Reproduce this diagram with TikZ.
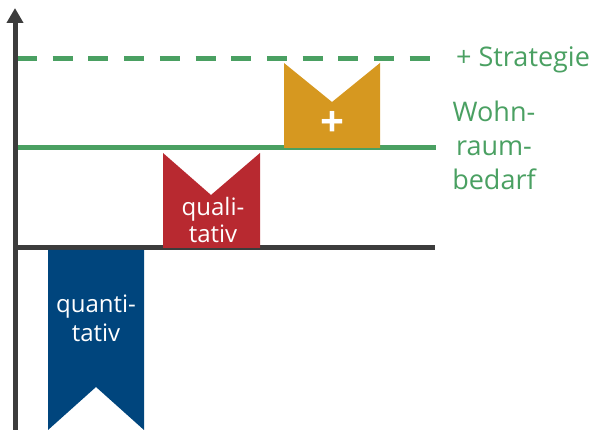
\documentclass[tikz,border=0pt]{standalone}
\usepackage{fontspec}
\setmainfont{Open Sans}
\usetikzlibrary{arrows.meta}
\definecolor{grn}{RGB}{74,160,98}
\definecolor{blu}{RGB}{0,69,125}
\definecolor{rd}{RGB}{184,41,48}
\definecolor{org}{RGB}{214,152,32}
\definecolor{axisgray}{RGB}{60,60,60}
\tikzset{
  level/.style={line width=5pt},
  lbl/.style={text=grn, inner sep=0pt, font=\fontsize{27}{34}\selectfont},
  inlbl/.style={text=white, inner sep=0pt, align=center},
}
\begin{document}
\begin{tikzpicture}[x=1pt,y=-1pt]
\useasboundingbox (0,0) rectangle (600,430);
% levels
\draw[level, axisgray] (15,248) -- (435,248);
\draw[level, grn] (15,148) -- (436,148);
\draw[level, grn, dash pattern=on 20pt off 15.7pt] (17,59) -- (430,59);
% banners
\fill[blu] (48,250) -- (144,250) -- (144,430) -- (96,387) -- (48,430) -- cycle;
\fill[rd] (163,153) -- (211,195) -- (260,153) -- (260,248) -- (163,248) -- cycle;
\fill[org] (284,63) -- (332,102) -- (380,63) -- (380,148) -- (284,148) -- cycle;
% axis
\draw[level, axisgray, -{Triangle[width=16pt,length=15pt]}] (15,430) -- (15,8);
% labels
\node[lbl, anchor=base west] (strat) at (456,67) {+ Strategie};
\node[lbl, align=center, anchor=base] (wohn) at (494,190) {Wohn-\\raum-\\bedarf};
\node[inlbl, font=\fontsize{24}{29}\selectfont, anchor=base] (quant) at (96,342) {quanti-\\tativ};
\node[inlbl, font=\fontsize{24}{27}\selectfont, anchor=base] (qual) at (213,243) {quali-\\tativ};
\node[inlbl, font=\fontsize{42}{44}\selectfont\bfseries] (plus) at (332,124) {+};
\end{tikzpicture}
\end{document}
